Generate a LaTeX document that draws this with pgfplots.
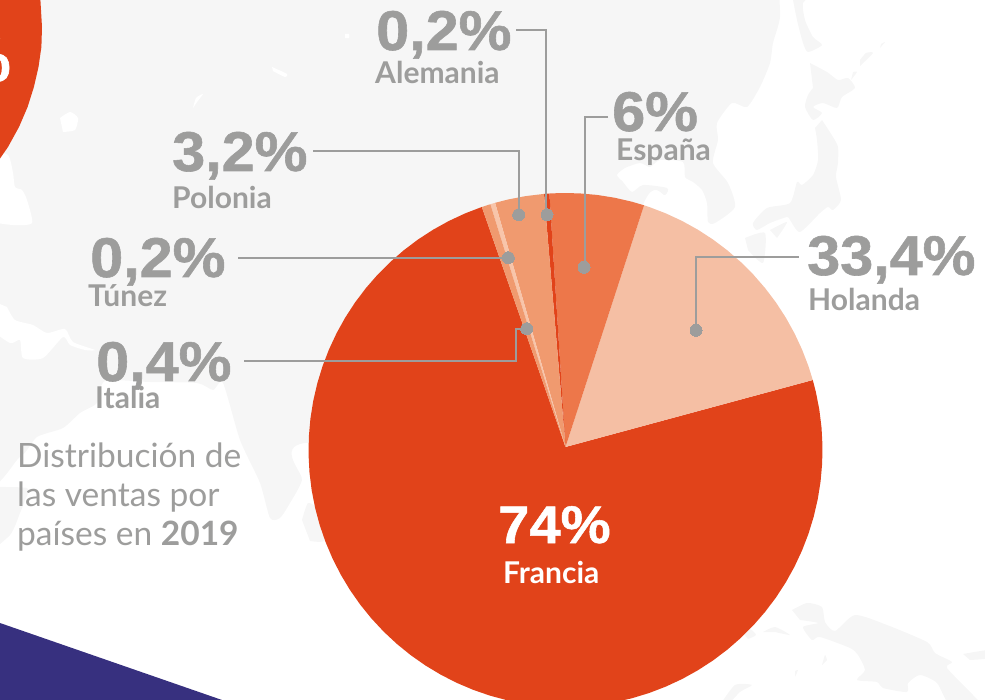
\documentclass[border=0pt]{standalone}
\usepackage{pgfplots}
\usepackage{fontspec}
\pgfplotsset{compat=1.18}
\setmainfont{Lato}
\newfontfamily\bignum[BoldFont={Liberation Sans Bold},BoldFeatures={FakeBold=1.0,FakeStretch=1.06}]{Liberation Sans}
\definecolor{rojo}{HTML}{E1431A}
\definecolor{holanda}{HTML}{F5BFA4}
\definecolor{espana}{HTML}{ED774A}
\definecolor{polonia}{HTML}{F09A6F}
\definecolor{tunez}{HTML}{F8C5AA}
\definecolor{gris}{HTML}{9D9D9C}
\definecolor{mapa}{HTML}{F6F6F6}
\definecolor{morado}{HTML}{37307F}

\pgfplotsset{
  page/.style={at={(0,0)},anchor=south west,scale only axis,width=985pt,height=700pt,hide axis},
  px/.style={page,xmin=0,xmax=985,ymin=0,ymax=700,y dir=reverse},
  land/.style={fill=mapa,draw=none,no marks,smooth,tension=0.4,forget plot},
  sea/.style={fill=white,draw=none,no marks,smooth,tension=0.4,forget plot},
  slice/.style={fill=#1,draw=none,no marks,sharp plot,data cs=polar,forget plot},
  leader/.style={gris,line width=2pt,no marks,sharp plot,forget plot},
}
\newcommand{\pct}[3]{\node[anchor=base west,inner sep=0pt,text=gris,font=\fontsize{56}{56}\bignum\bfseries] at (axis cs:#1,#2) {#3};}
\newcommand{\pais}[3]{\node[anchor=base west,inner sep=0pt,text=gris,font=\fontsize{30}{30}\selectfont\bfseries] at (axis cs:#1,#2) {#3};}

\begin{document}
\begin{tikzpicture}
\path[use as bounding box,clip] (0,0) rectangle (985pt,700pt);

% background: map, red disc, purple corner
\begin{axis}[px]
  \addplot[land] coordinates {(778,-20) (780,17) (773,43) (770,63) (760,87) (747,107) (732,103) (717,123) (718,140) (713,163) (728,183) (735,207) (715,223) (708,222) (707,203) (702,190) (693,182) (685,177) (683,162) (660,160) (650,167) (640,163) (625,168) (617,175) (623,182) (632,192) (643,185) (667,188) (665,195) (643,205) (565,447) (305,443) (302,480) (290,503) (280,518) (270,518) (260,483) (240,440) (223,383) (213,390) (197,383) (150,382) (105,381) (97,403) (80,413) (63,428) (37,437) (20,457) (-20,465) (-20,-20)};
  \addplot[land] coordinates {(-20,487) (27,488) (25,500) (20,513) (10,535) (-20,560)};
  \addplot[land] coordinates {(302,520) (308,503) (318,510) (325,540) (310,541)};
  % japan and north
  \addplot[land] coordinates {(792,-5) (797,20) (803,43) (808,52) (822,45) (813,37) (805,20) (803,3) (813,-5)};
  \addplot[land] coordinates {(810,63) (827,72) (838,80) (848,78) (855,88) (842,97) (837,108) (823,103) (813,107) (822,113) (813,120) (805,107) (808,95) (813,88)};
  \addplot[land] coordinates {(822,120) (833,137) (838,147) (838,163) (836,177) (841,200) (833,210) (828,207) (820,213) (800,232) (790,220) (787,217) (770,223) (757,230) (753,223) (767,208) (790,203) (797,182) (802,185) (813,175) (818,160) (817,140) (815,128)};
  \addplot[land] coordinates {(745,238) (765,233) (763,263) (748,250)};
  \addplot[land] coordinates {(770,230) (787,222) (777,238)};
  \addplot[land] coordinates {(860,66) (873,53) (866,53) (860,60)};
  \addplot[land] coordinates {(851,80) (857,72) (853,72)};
  \addplot[land] coordinates {(880,48) (885,42) (881,44)};
  % new guinea and neighbours
  \addplot[land] coordinates {(792,610) (807,603) (822,607) (825,622) (835,631) (855,615) (887,625) (927,642) (935,653) (952,662) (947,668) (973,695) (980,705) (950,705) (937,683) (920,675) (908,683) (907,692) (883,688) (877,682) (857,680) (865,670) (858,655) (850,648) (820,637) (812,640) (803,627) (818,623) (800,620)};
  \addplot[land] coordinates {(963,654) (990,650) (990,658) (970,660)};
  \addplot[land] coordinates {(763,632) (775,627) (790,635) (775,632)};
  \addplot[land] coordinates {(743,633) (750,629) (756,635) (748,639)};
  \addplot[land] coordinates {(720,705) (735,685) (752,685) (740,692) (728,705)};
  \addplot[land] coordinates {(822,665) (825,655) (827,660)};
  \addplot[land] coordinates {(795,671) (798,670) (795,677)};
  % white sea patches in the land
  \addplot[sea] coordinates {(7,307) (15,320) (33,325) (47,333) (65,329) (73,342) (95,350) (85,350) (70,345) (63,337) (43,358) (23,358) (20,340) (10,343) (-10,327) (-10,300)};
  \addplot[sea] coordinates {(-10,150) (8,155) (13,173) (15,187) (22,190) (27,200) (32,223) (13,225) (-10,222)};
  \addplot[sea] coordinates {(60,118) (70,112) (78,118) (75,130) (63,132)};
  \addplot[sea] coordinates {(272,67) (287,74) (285,77) (273,71)};
  \addplot[sea] coordinates {(193,108) (196,98) (203,94) (197,102)};
  \addplot[sea] coordinates {(345,34) (349,34) (349,38) (345,38)};
  \addplot[fill=rojo,draw=none,no marks,sharp plot,forget plot] coordinates {(34.8,-30) (40.4,0) (42,27) (41.4,47) (38.5,67) (33.9,87) (27.6,107) (19,127) (8,147) (-1,160) (-12,175) (-40,175) (-40,-30)};
  \addplot[fill=morado,draw=none,forget plot] coordinates {(0,623) (222,700) (0,700)};
  \node[anchor=base east,inner sep=0pt,text=white,font=\fontsize{62}{62}\bignum\bfseries] at (axis cs:11,81) {\%};
\end{axis}

% pie, polar data around the disc centre
\begin{axis}[page,xmin=-565.5,xmax=419.5,ymin=-250,ymax=450]
  \addplot[slice=rojo] coordinates {(90,3) (109,257) (113,257) (117,257) (121,257) (125,257) (129,257) (133,257) (137,257) (141,257) (145,257) (149,257) (153,257) (157,257) (161,257) (165,257) (169,257) (173,257) (177,257) (181,257) (185,257) (189,257) (193,257) (197,257) (201,257) (205,257) (209,257) (213,257) (217,257) (221,257) (225,257) (229,257) (233,257) (237,257) (241,257) (245,257) (249,257) (253,257) (257,257) (261,257) (265,257) (269,257) (273,257) (277,257) (281,257) (285,257) (289,257) (293,257) (297,257) (301,257) (305,257) (309,257) (313,257) (317,257) (321,257) (325,257) (329,257) (333,257) (337,257) (341,257) (345,257) (349,257) (353,257) (357,257) (361,257) (365,257) (369,257) (373,257) (375.8,257)};
  \addplot[slice=holanda] coordinates {(90,3) (15.8,257) (19,257) (23,257) (27,257) (31,257) (35,257) (39,257) (43,257) (47,257) (51,257) (55,257) (59,257) (63,257) (67,257) (71,257) (72.2,257)};
  \addplot[slice=espana] coordinates {(90,3) (72.2,257) (75,257) (79,257) (83,257) (87,257) (91,257) (93.6,257)};
  \addplot[slice=rojo] coordinates {(90,3) (93.6,257) (94.8,257)};
  \addplot[slice=polonia] coordinates {(90,3) (94.8,257) (99,257) (103,257) (105.9,257)};
  \addplot[slice=tunez] coordinates {(90,3) (105.9,257) (107,257)};
  \addplot[slice=polonia] coordinates {(90,3) (107,257) (109,257)};
\end{axis}

% leader lines, dots and texts
\begin{axis}[px]
  \addplot[leader] coordinates {(516,30.3) (546.3,30.3) (546.3,215)};
  \addplot[leader] coordinates {(313,151) (518.7,151) (518.7,215)};
  \addplot[leader] coordinates {(238,257.7) (508,257.7)};
  \addplot[leader] coordinates {(244,360.6) (515.5,360.6) (515.5,329) (526,329)};
  \addplot[leader] coordinates {(608,117.3) (585,117.3) (585,267)};
  \addplot[leader] coordinates {(798.5,257.3) (696,257.3) (696,330)};
  \addplot[only marks,mark=*,mark size=6pt,gris,mark options={fill=gris,draw=gris,line width=0pt},forget plot] coordinates {(547,214.7) (518.7,214.7) (508.3,257.7) (526.7,328.7) (584,267.3) (696,330.3)};
  \pct{376}{50}{0,2\%}
  \pais{375}{84}{Alemania}
  \pct{172}{171}{3,2\%}
  \pais{172}{208.5}{Polonia}
  \pct{90}{277}{0,2\%}
  \pais{88}{306.5}{Túnez}
  \pct{96}{381}{0,4\%}
  \pais{95}{408.5}{Italia}
  \pct{612}{131}{6\%}
  \pais{616}{160.5}{España}
  \pct{807}{275}{33,4\%}
  \pais{808}{310.5}{Holanda}
  \node[anchor=base west,inner sep=0pt,text=white,font=\fontsize{53}{53}\bignum\bfseries] at (axis cs:498,543) {74\%};
  \node[anchor=base west,inner sep=0pt,text=white,font=\fontsize{30}{30}\selectfont\bfseries] at (axis cs:503,583.5) {Francia};
  \node[anchor=base west,inner sep=0pt,text=gris,font=\fontsize{33.5}{33.5}\selectfont] at (axis cs:17,467.5) {Distribución de};
  \node[anchor=base west,inner sep=0pt,text=gris,font=\fontsize{33.5}{33.5}\selectfont] at (axis cs:17,506) {las ventas por};
  \node[anchor=base west,inner sep=0pt,text=gris,font=\fontsize{33.5}{33.5}\selectfont] at (axis cs:17,545) {países en \textbf{2019}};
\end{axis}
\end{tikzpicture}
\end{document}
